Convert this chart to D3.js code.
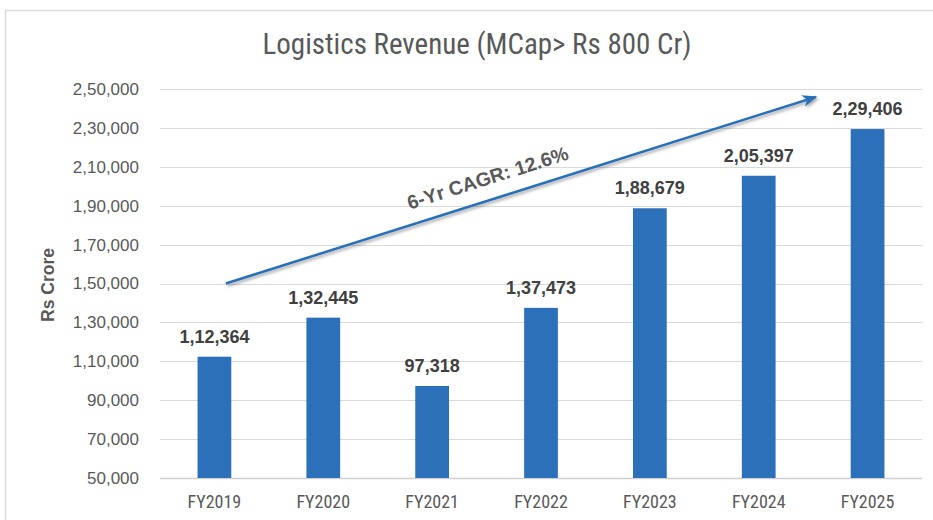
<!DOCTYPE html>
<html>
<head>
<meta charset="utf-8">
<script src="https://cdn.jsdelivr.net/npm/d3@7"></script>
<style>
  body { margin: 0; background: #fff; }
  svg { display: block; }
</style>
</head>
<body>
<div id="chart"></div>
<script>
// Chart data
const years = ["FY2019", "FY2020", "FY2021", "FY2022", "FY2023", "FY2024", "FY2025"];
const revenue = [112364, 132445, 97318, 137473, 188679, 205397, 229406];
const yTicks = [50000, 70000, 90000, 110000, 130000, 150000, 170000, 190000, 210000, 230000, 250000];
const cagrLabel = "6-Yr CAGR: 12.6%";

// arrow annotation in data terms: [category, offset from bar left (in steps), value]
const arrowStart = ["FY2019", 0.26, 150000];
const arrowEnd = ["FY2024", 0.68, 245900];

const W = 933, H = 520;
const margin = { top: 89, right: 11, bottom: 42, left: 160 };
const width = W - margin.left - margin.right;
const height = H - margin.top - margin.bottom;

const barColor = "#2B70B8";
const narrow = "'Liberation Sans Narrow', 'Arial Narrow', 'Roboto Condensed', sans-serif";
const indian = v => {
    // Indian style grouping: 2,50,000
    const s = String(Math.round(v));
    if (s.length <= 3) return s;
    const last3 = s.slice(-3);
    let rest = s.slice(0, -3);
    const parts = [];
    while (rest.length > 2) { parts.unshift(rest.slice(-2)); rest = rest.slice(0, -2); }
    if (rest.length) parts.unshift(rest);
    return parts.join(",") + "," + last3;
};

const svg = d3.select("#chart").append("svg")
    .attr("width", W)
    .attr("height", H);

// Outer chart frame
svg.append("rect")
    .attr("x", 5.5).attr("y", 10.5)
    .attr("width", W + 10).attr("height", H + 10)
    .attr("fill", "#fff")
    .attr("stroke", "#d9d9d9")
    .attr("stroke-width", 1.5);

const defs = svg.append("defs");
const shadow = defs.append("filter").attr("id", "shadow")
    .attr("x", "-10%").attr("y", "-50%").attr("width", "120%").attr("height", "200%");
shadow.append("feDropShadow")
    .attr("dx", 1.5).attr("dy", 2).attr("stdDeviation", 1.5)
    .attr("flood-color", "#000").attr("flood-opacity", 0.35);

defs.append("marker")
    .attr("id", "arrowhead")
    .attr("viewBox", "0 0 10 10")
    .attr("refX", 9).attr("refY", 5)
    .attr("markerWidth", 6).attr("markerHeight", 6)
    .attr("markerUnits", "strokeWidth")
    .attr("orient", "auto")
    .append("path")
    .attr("d", "M0,1 L10,5 L0,9 L3,5 Z")
    .attr("fill", barColor);

const g = svg.append("g")
    .attr("transform", "translate(" + margin.left + "," + margin.top + ")");

const xScale = d3.scaleBand().domain(years).range([0, width]).paddingInner(0.69).paddingOuter(0.345);
const yScale = d3.scaleLinear().domain([50000, 250000]).range([height, 0]);

// Gridlines
g.append("g")
    .selectAll("line")
    .data(yTicks)
    .join("line")
    .attr("x1", 0).attr("x2", width)
    .attr("y1", d => Math.round(yScale(d)) + 0.5)
    .attr("y2", d => Math.round(yScale(d)) + 0.5)
    .attr("stroke", d => d === 50000 ? "#d0d0d0" : "#d9d9d9")
    .attr("stroke-width", d => d === 50000 ? 1.5 : 1.2);

// Y axis
const yAxis = d3.axisLeft(yScale).tickValues(yTicks).tickFormat(indian).tickSize(0).tickPadding(21);
g.append("g")
    .call(yAxis)
    .call(s => s.select(".domain").remove())
    .selectAll("text")
    .attr("fill", "#595959")
    .style("font-family", "'Liberation Sans', Arial, sans-serif")
    .style("font-size", "17px");

// X axis
const xAxis = d3.axisBottom(xScale).tickSize(0).tickPadding(17);
g.append("g")
    .attr("transform", "translate(0," + height + ")")
    .call(xAxis)
    .call(s => s.select(".domain").remove())
    .selectAll("text")
    .attr("fill", "#595959")
    .style("font-family", narrow)
    .style("font-size", "18px");

// Bars
g.selectAll(".bar")
    .data(years)
    .join("rect")
    .attr("class", "bar")
    .attr("x", d => xScale(d))
    .attr("width", xScale.bandwidth())
    .attr("y", (d, i) => yScale(revenue[i]))
    .attr("height", (d, i) => height - yScale(revenue[i]))
    .attr("fill", barColor);

// Value labels
g.selectAll(".val")
    .data(years)
    .join("text")
    .attr("class", "val")
    .attr("x", d => xScale(d) + xScale.bandwidth() / 2)
    .attr("y", (d, i) => yScale(revenue[i]) - 14)
    .attr("text-anchor", "middle")
    .attr("fill", "#404040")
    .style("font-family", "'Liberation Sans', Arial, sans-serif")
    .style("font-weight", "bold")
    .style("font-size", "18px")
    .text((d, i) => indian(revenue[i]));

// CAGR arrow
const ax = a => xScale(a[0]) + a[1] * xScale.step();
const x1 = ax(arrowStart), y1 = yScale(arrowStart[2]);
const x2 = ax(arrowEnd), y2 = yScale(arrowEnd[2]);
g.append("line")
    .attr("x1", x1).attr("y1", y1)
    .attr("x2", x2).attr("y2", y2)
    .attr("stroke", barColor)
    .attr("stroke-width", 2.5)
    .attr("marker-end", "url(#arrowhead)")
    .attr("filter", "url(#shadow)");

const angle = Math.atan2(y2 - y1, x2 - x1) * 180 / Math.PI;
const t = 0.455;
const lx = x1 + (x2 - x1) * t, ly = y1 + (y2 - y1) * t;
g.append("text")
    .attr("transform", "translate(" + lx + "," + ly + ") rotate(" + angle + ")")
    .attr("y", -15)
    .attr("text-anchor", "middle")
    .attr("fill", "#595959")
    .style("font-family", "'Liberation Sans', Arial, sans-serif")
    .style("font-weight", "bold")
    .style("font-size", "19.5px")
    .text(cagrLabel);

// Title
svg.append("text")
    .attr("x", 477)
    .attr("y", 54)
    .attr("text-anchor", "middle")
    .attr("fill", "#595959")
    .style("font-family", narrow)
    .style("font-size", "29px")
    .text("Logistics Revenue (MCap> Rs 800 Cr)");

// Y axis title
svg.append("text")
    .attr("transform", "translate(54," + 285 + ") rotate(-90)")
    .attr("text-anchor", "middle")
    .attr("fill", "#595959")
    .style("font-family", "'Liberation Sans', Arial, sans-serif")
    .style("font-weight", "bold")
    .style("font-size", "17.5px")
    .text("Rs Crore");
</script>
</body>
</html>
